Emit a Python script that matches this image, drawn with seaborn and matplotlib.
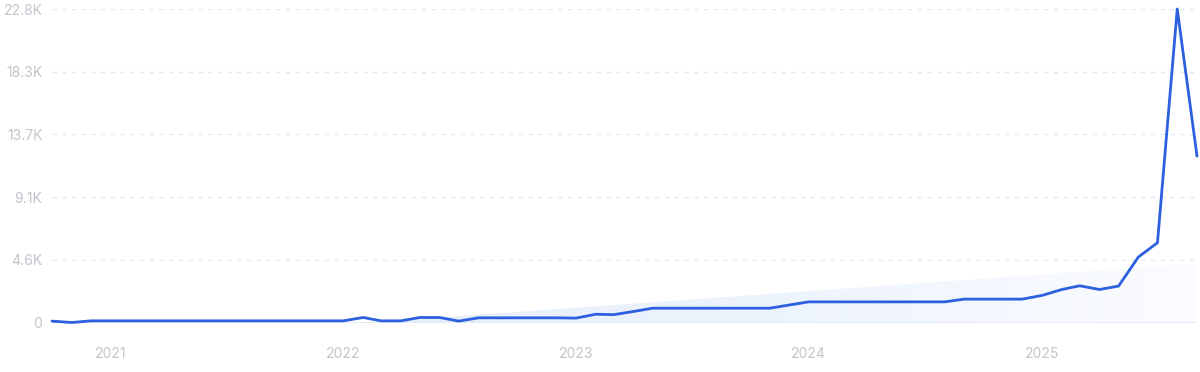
import numpy as np
import pandas as pd
import matplotlib
matplotlib.use("Agg")
import matplotlib.pyplot as plt
import matplotlib.dates as mdates
import seaborn as sns
from matplotlib.colors import LinearSegmentedColormap

# ---- data ----
months = pd.date_range("2020-10-01", "2025-09-01", freq="MS")
values = [
    100, 0, 120, 120, 120, 120, 120, 120, 120, 120, 120, 120, 120, 120, 120,   # Oct20 - Dec21
    120, 365, 120, 120, 365, 365, 100, 340, 340, 340, 340, 340,                # Jan22 - Dec22
    320, 600, 570, 800, 1040, 1040, 1040, 1040, 1040, 1040, 1040, 1270,        # Jan23 - Dec23
    1500, 1500, 1500, 1500, 1500, 1500, 1500, 1500, 1700, 1700, 1700, 1700,    # Jan24 - Dec24
    1970, 2400, 2670, 2400, 2650, 4760, 5800, 22800, 12100,                    # Jan25 - Sep25
]
ytick_values = [0, 4560, 9120, 13680, 18240, 22800]
ytick_labels = ["0", "4.6K", "9.1K", "13.7K", "18.3K", "22.8K"]
xtick_years = [2021, 2022, 2023, 2024, 2025]
trend_start, trend_end = -1650, 4300

df = pd.DataFrame({"month": months, "value": values})

# ---- style ----
sns.set_theme(style="white")
plt.rcParams["font.family"] = ["Inter", "DejaVu Sans"]

W, H = 1200, 372
fig = plt.figure(figsize=(W / 100, H / 100), dpi=100)
left, right, top, bottom = 52, 1197, 9, 322.5
ax = fig.add_axes([left / W, 1 - bottom / H, (right - left) / W, (bottom - top) / H])

line_color = "#2d60df"
grid_color = "#e1e8f5"
label_color = "#c3c3cb"

# trend area with gradient
xnum = mdates.date2num(df["month"])
x0 = np.interp(0, [trend_start, trend_end], [xnum[0], xnum[-1]])
poly_x = [x0, xnum[-1], xnum[-1]]
poly_y = [0, trend_end, 0]
patch = ax.fill(poly_x, poly_y, facecolor="none", edgecolor="none")[0]
cmap = LinearSegmentedColormap.from_list("g", ["#e5eefb", "#eef4fd", "#fbfcff"])
grad = np.linspace(0, 1, 256).reshape(1, -1)
im = ax.imshow(grad, cmap=cmap, aspect="auto",
               extent=[x0, xnum[-1], 0, trend_end], origin="lower", zorder=1)
im.set_clip_path(patch)

# grid lines
for yv in ytick_values[1:]:
    ax.axhline(yv, color=grid_color, lw=1.0, ls=(0, (3, 4)), zorder=0)
ax.axhline(0, color="#dfe6f3", lw=1.2, zorder=1)

sns.lineplot(data=df, x="month", y="value", ax=ax, color=line_color,
             linewidth=2.0, zorder=3, clip_on=False)

ax.set_xlim(df["month"].iloc[0], df["month"].iloc[-1])
ax.set_ylim(0, 22800)
ax.set_yticks(ytick_values, ytick_labels)
ax.set_xticks([pd.Timestamp(f"{y}-01-01") for y in xtick_years],
              [str(y) for y in xtick_years])
ax.tick_params(axis="y", length=0, pad=7, labelcolor=label_color, labelsize=10)
ax.tick_params(axis="x", length=0, pad=18, labelcolor=label_color, labelsize=10)
ax.set_xlabel("")
ax.set_ylabel("")
for s in ax.spines.values():
    s.set_visible(False)

fig.savefig("out.png", dpi=100)
